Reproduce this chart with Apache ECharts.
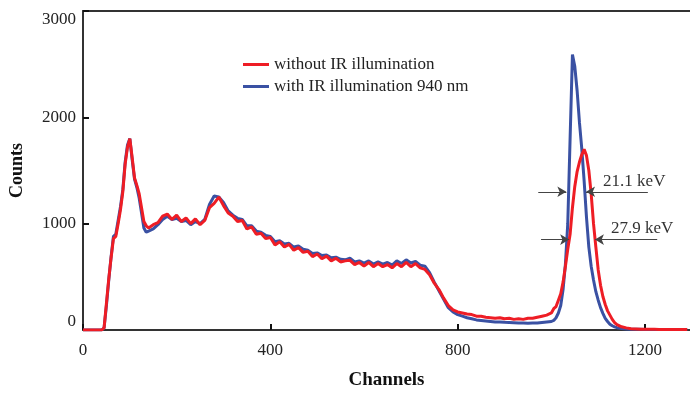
<!DOCTYPE html>
<html>
<head>
<meta charset="utf-8">
<script src="https://cdn.jsdelivr.net/npm/echarts@6/dist/echarts.min.js"></script>
<style>
  html, body {margin: 0; padding: 0; background: #fff;}
  #chart {width: 690px; height: 395px;}
</style>
</head>
<body>
<div id="chart"></div>
<script>
const channels = [
  0, 10, 20, 30, 40, 45, 50, 55, 60, 65, 70, 75, 80, 85, 90, 95, 100, 105, 110, 115, 120, 125, 130, 135, 140,
  150, 160, 170, 180, 190, 200, 210, 220, 230, 240, 250, 260, 270, 280, 290, 300, 310, 320, 330, 340,
  350, 360, 370, 380, 390, 400, 410, 420, 430, 440, 450, 460, 470, 480, 490, 500, 510, 520, 530, 540,
  550, 560, 570, 580, 590, 600, 610, 620, 630, 640, 650, 660, 670, 680, 690, 700, 710, 720, 730, 740,
  750, 760, 770, 780, 790, 800, 810, 820, 830, 840, 850, 860, 870, 880, 890, 900, 910, 920, 930, 940,
  950, 960, 970, 980, 990,
  1000, 1005, 1010, 1015, 1020, 1025, 1030, 1035, 1040, 1045, 1050, 1055, 1060, 1065, 1070, 1075, 1080,
  1085, 1090, 1095, 1100, 1105, 1110, 1115, 1120, 1125, 1130, 1135, 1140,
  1150, 1160, 1170, 1180, 1190, 1200, 1210, 1220, 1230, 1240, 1250, 1260, 1270, 1280, 1290
];

const withoutIR = [
  0, 0, 0, 0, 0, 20, 250, 480, 680, 860, 880, 1000, 1130, 1300, 1560, 1720, 1800, 1620, 1430, 1360, 1280, 1150, 1020, 980, 960,
  990, 1010, 1070, 1090, 1040, 1080, 1020, 1055, 1000, 1045, 990, 1030, 1150, 1190, 1250, 1170, 1100, 1070, 1020, 1030,
  950, 970, 900, 910, 860, 870, 800, 830, 780, 805, 750, 775, 730, 740, 690, 715, 670, 695, 650, 675,
  640, 650, 655, 615, 635, 600, 635, 595, 625, 595, 615, 585, 625, 595, 635, 595, 625, 585, 570, 520,
  440, 380, 300, 230, 190, 170, 160, 150, 145, 130, 130, 120, 115, 110, 115, 105, 110, 100, 105, 100,
  110, 110, 120, 130, 140,
  160, 200, 220, 280, 340, 450, 600, 760, 900, 1150, 1350, 1490, 1580, 1650, 1700, 1640, 1500,
  1280, 1000, 780, 565, 420, 315, 240, 180, 140, 100, 70, 50,
  30, 20, 12, 10, 8, 8, 6, 6, 5, 5, 5, 5, 5, 5, 5
];

const withIR = [
  0, 0, 0, 0, 0, 20, 230, 470, 690, 880, 900, 1030, 1160, 1320, 1580, 1740, 1800, 1600, 1420, 1340, 1240, 1100, 960, 920, 930,
  950, 990, 1040, 1070, 1040, 1050, 1020, 1030, 990, 1020, 1000, 1040, 1180, 1260, 1250, 1200, 1120, 1080, 1050, 1040,
  980, 980, 930, 920, 890, 880, 830, 840, 810, 815, 780, 790, 760, 750, 720, 725, 700, 705, 680, 685,
  665, 660, 675, 640, 650, 630, 650, 620, 640, 620, 635, 610, 650, 625, 660, 630, 645, 610, 600, 540,
  450, 370, 290, 210, 170, 145, 130, 115, 105, 95, 90, 85, 80, 75, 75, 72, 70, 68, 65, 65,
  63, 65, 65, 70, 75,
  80, 90, 115, 160, 230, 380, 620, 1000, 1800, 2590, 2480, 2250, 1950, 1700, 1400, 1060, 780,
  600, 470, 360, 280, 210, 157, 110, 80, 55, 40, 30, 22,
  15, 10, 8, 7, 6, 5, 5, 5, 5, 5, 5, 5, 5, 5, 5
];

const xTicks = [0, 400, 800, 1200];
const yTicks = [0, 1000, 2000, 3000];

const redName = 'without IR illumination';
const blueName = 'with IR illumination 940 nm';

const font = 'Liberation Serif';
const axisColor = '#333';

const chart = echarts.init(document.getElementById('chart'));

const pairs = vals => channels.map((c, i) => [c, vals[i]]);

const fwhm = (y, x1, x2, x3, x4) => [
  [{coord: [x1, y]}, {coord: [x2, y]}],
  [{coord: [x4, y]}, {coord: [x3, y]}]
];

chart.setOption({
  animation: false,
  grid: {left: 81, right: 0, top: 11, bottom: 61},
  legend: {
    data: [redName, blueName],
    orient: 'vertical',
    left: 238,
    top: 51,
    itemWidth: 26,
    itemHeight: 3,
    itemGap: 5,
    icon: 'rect',
    textStyle: {fontFamily: font, fontSize: 17, color: '#222'}
  },
  xAxis: [{
    type: 'value',
    min: 0,
    max: 1296,
    interval: 400,
    name: 'Channels',
    nameLocation: 'middle',
    nameGap: 41,
    nameTextStyle: {fontFamily: font, fontSize: 19, fontWeight: 'bold', color: '#111'},
    axisLine: {lineStyle: {color: axisColor, width: 2}},
    axisTick: {inside: true, length: 6, lineStyle: {color: '#111', width: 2}},
    axisLabel: {
      fontFamily: font, fontSize: 17, color: '#222', margin: 12,
      showMaxLabel: false,
      formatter: v => xTicks.includes(v) ? String(v) : ''
    },
    splitLine: {show: false}
  }, {
    type: 'value',
    position: 'top',
    min: 0,
    max: 1296,
    axisLine: {show: true, lineStyle: {color: axisColor, width: 2}},
    axisTick: {show: false},
    axisLabel: {show: false},
    splitLine: {show: false}
  }],
  yAxis: {
    type: 'value',
    min: 0,
    max: 3000,
    interval: 1000,
    name: 'Counts',
    nameLocation: 'middle',
    nameGap: 57,
    nameTextStyle: {fontFamily: font, fontSize: 18, fontWeight: 'bold', color: '#111'},
    axisLine: {show: true, lineStyle: {color: axisColor, width: 2}},
    axisTick: {show: true, inside: true, length: 6, lineStyle: {color: '#111', width: 2}},
    axisLabel: {
      fontFamily: font, fontSize: 17, color: '#222', margin: 7,
      verticalAlignMinLabel: 'bottom',
      verticalAlignMaxLabel: 'top',
      formatter: v => yTicks.includes(v) ? String(v) : ''
    },
    splitLine: {show: false}
  },
  series: [{
    name: blueName,
    type: 'line',
    data: pairs(withIR),
    symbol: 'none',
    color: '#3a51a3',
    lineStyle: {width: 3},
    z: 2
  }, {
    name: redName,
    type: 'line',
    data: pairs(withoutIR),
    symbol: 'none',
    color: '#ee1d25',
    lineStyle: {width: 3},
    z: 3,
    markLine: {
      silent: true,
      symbol: ['none', 'arrow'],
      symbolSize: [8, 9],
      lineStyle: {color: '#444', width: 1, type: 'solid'},
      label: {show: false},
      data: [
        ...fwhm(1300, 972, 1032, 1074, 1206),
        ...fwhm(850, 978, 1038, 1093, 1226)
      ]
    },
    markPoint: {
      silent: true,
      symbol: 'circle',
      symbolSize: 1,
      itemStyle: {color: 'rgba(0,0,0,0)'},
      label: {
        show: true,
        position: 'inside',
        fontFamily: font,
        fontSize: 17,
        color: '#333',
        formatter: p => p.name
      },
      data: [
        {name: '21.1 keV', coord: [1177, 1398]},
        {name: '27.9 keV', coord: [1194, 954]}
      ]
    }
  }]
});
</script>
</body>
</html>
